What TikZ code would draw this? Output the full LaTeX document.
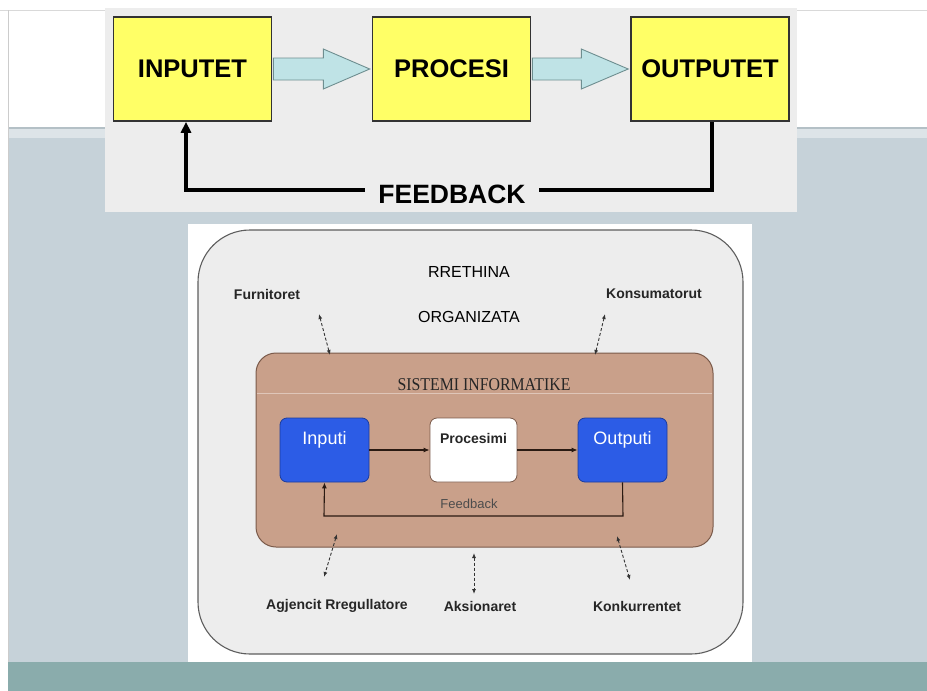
\documentclass[tikz,border=0pt]{standalone}
\usepackage{fontspec}
\setmainfont{Liberation Sans}
\newfontfamily\serifface{Liberation Serif}
\usetikzlibrary{calc,arrows.meta}
\definecolor{slidebg}{HTML}{C6D2D9}
\definecolor{slideband}{HTML}{DDE4E8}
\definecolor{slideline}{HTML}{B4C0C6}
\definecolor{tealbar}{HTML}{8AACAC}
\definecolor{panelgray}{HTML}{EDEDED}
\definecolor{boxyellow}{HTML}{FFFF66}
\definecolor{flowcyan}{HTML}{BFE3E6}
\definecolor{flowedge}{HTML}{6E8E90}
\definecolor{envfill}{HTML}{EDEDED}
\definecolor{envedge}{HTML}{5E5E5E}
\definecolor{sysfill}{HTML}{C9A08A}
\definecolor{sysedge}{HTML}{7A5A4A}
\definecolor{ioblue}{HTML}{2C5CE6}
\definecolor{ioedge}{HTML}{1C3C9C}
\definecolor{darkline}{HTML}{2A1A12}
\tikzset{
  fsz/.style={font=\fontsize{#1}{#1}\selectfont},
  bigbox/.style={draw=black!80, line width=1.6pt, fill=boxyellow,
    minimum width=158pt, minimum height=104pt, inner sep=0pt,
    font=\fontsize{25.5}{25.5}\selectfont\bfseries},
  flow/.style={draw=flowedge, line width=0.9pt, fill=flowcyan, line join=miter},
  bigfeed/.style={line width=3.6pt, black},
  iobox/.style={draw=ioedge, line width=0.8pt, fill=ioblue, rounded corners=7pt,
    minimum width=89pt, minimum height=64pt, inner sep=0pt},
  procbox/.style={draw=sysedge, line width=0.8pt, fill=white, rounded corners=7pt,
    minimum width=87pt, minimum height=64pt, inner sep=0pt},
  innertext/.style={font=\fontsize{18}{18}\selectfont, text=white},
  sysarrow/.style={darkline, line width=1.1pt, -{Latex[length=6pt,width=5pt]}},
  envarrow/.style={black!80, line width=0.9pt, densely dashed,
    {Latex[length=5pt,width=4pt]}-{Latex[length=5pt,width=4pt]}},
  envlabel/.style={font=\fontsize{14}{14}\selectfont\bfseries, text=black!85},
}
\begin{document}
\begin{tikzpicture}[x=1pt,y=-1pt]
\useasboundingbox (0,0) rectangle (927,691);
% slide background
\fill[white] (0,0) rectangle (927,691);
\fill[slidebg] (8,138) rectangle (927,662);
\fill[slideband] (8,129) rectangle (927,138);
\draw[slideline, line width=1.6pt] (8,128) -- (927,128);
\draw[black!15, line width=0.8pt] (0,10) -- (927,10);
\draw[black!20, line width=0.8pt] (8,10) -- (8,662);
\fill[tealbar] (8,662) rectangle (927,691);

% upper panel: input-process-output cycle
\fill[panelgray] (105,8) rectangle (797,212);
\node[bigbox] (inp) at (192.5,69) {INPUTET};
\node[bigbox] (proc) at (451.5,69) {PROCESI};
\node[bigbox] (outp) at (710,69) {OUTPUTET};
\draw[flow] ($(inp.east)+(1,-11)$) -- ($(inp.east)+(51,-11)$) -- ($(inp.east)+(51,-20)$)
  -- ($(proc.west)+(-2,0)$) -- ($(inp.east)+(51,20)$) -- ($(inp.east)+(51,11)$)
  -- ($(inp.east)+(1,11)$) -- cycle;
\draw[flow] ($(proc.east)+(1,-11)$) -- ($(proc.east)+(50,-11)$) -- ($(proc.east)+(50,-20)$)
  -- ($(outp.west)+(-2,0)$) -- ($(proc.east)+(50,20)$) -- ($(proc.east)+(50,11)$)
  -- ($(proc.east)+(1,11)$) -- cycle;
\node[font=\fontsize{26.5}{26.5}\selectfont\bfseries] (fb) at (452,194) {FEEDBACK};
\coordinate (fbR) at (712,190);
\coordinate (fbL) at (186,190);
\draw[bigfeed] ($(outp.south)+(2,0)$) -- (fbR) -- ($(fb.east)+(10,-4)$);
\draw[bigfeed, -{Triangle[length=11pt,width=10pt]}] ($(fb.west)+(-10,-4)$) -- (fbL) -- ($(inp.south)+(-6.5,0)$);

% lower panel: information system inside the organisation
\fill[white] (188,224) rectangle (752,662);
\draw[envedge, fill=envfill, line width=1.1pt, rounded corners=52pt] (198,230) rectangle (743,654);
\node[fsz=16] (env) at (469,272) {RRETHINA};
\node[fsz=16] (org) at (469,317) {ORGANIZATA};
\node[envlabel] (furn) at (267,294) {Furnitoret};
\node[envlabel] (kons) at (654,294) {Konsumatorut};

\node[draw=sysedge, line width=1pt, fill=sysfill, rounded corners=20pt,
  minimum width=457pt, minimum height=194pt, inner sep=0pt] (sys) at (484.5,450) {};
\draw[white!40!sysfill, line width=0.7pt] (257,393) -- (712,393);
\node[font=\serifface\fontsize{18}{18}\selectfont, text=black!85] (systitle) at (484,385) {\scalebox{0.88}[1]{SISTEMI INFORMATIKE}};

\node[iobox] (in2) at (324.5,450) {};
\node[innertext] at ($(in2.north)+(0,22)$) {Inputi};
\node[procbox] (pr2) at (473.5,450) {};
\node[font=\fontsize{14}{14}\selectfont\bfseries, text=black!85] at ($(pr2.north)+(0,21)$) {Procesimi};
\node[iobox] (out2) at (622.5,450) {};
\node[innertext] at ($(out2.north)+(0,22)$) {Outputi};

\draw[sysarrow] (in2.east) -- (pr2.west);
\draw[sysarrow] (pr2.east) -- (out2.west);
\coordinate (sfR) at (623,516);
\coordinate (sfL) at (324,516);
\draw[sysarrow] (out2.south) -- (sfR) -- (sfL) -- (in2.south);
\node[fsz=13, text=black!70] (sfb) at (469,504) {Feedback};

\node[envlabel] (agj) at (337,606) {Agjencit Rregullatore};
\node[envlabel] (aks) at (480,606) {Aksionaret};
\node[envlabel] (konk) at (637,606) {Konkurrentet};

\draw[envarrow] (319,314) -- (330,355);
\draw[envarrow] (605,314) -- (595,355);
\draw[envarrow] (337,534) -- (324,577);
\draw[envarrow] (474,553) -- (474,594);
\draw[envarrow] (617,536) -- (630,580);
\end{tikzpicture}
\end{document}
